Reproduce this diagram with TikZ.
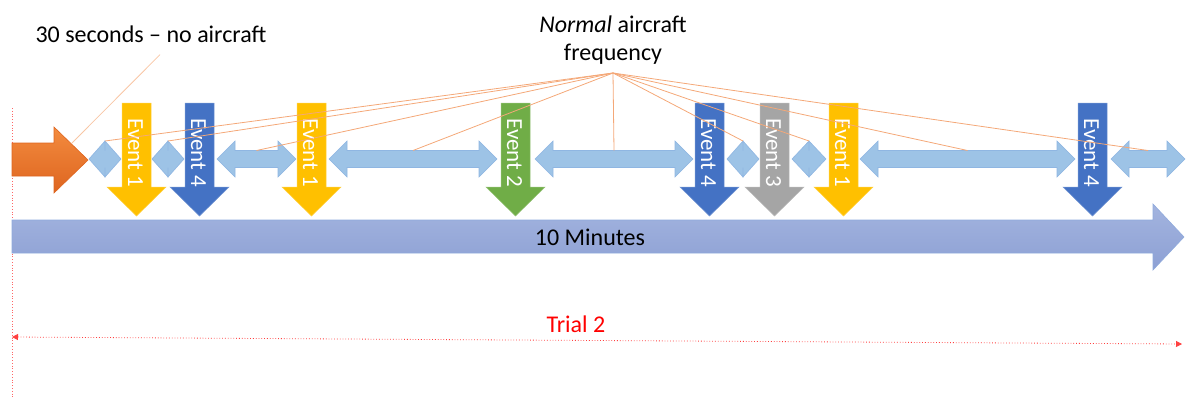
\documentclass[tikz,border=0pt]{standalone}
\usepackage{fontspec}
\setmainfont{Carlito}
\usepackage{tikz}
\usetikzlibrary{calc,arrows.meta}
\definecolor{evyellow}{HTML}{FFC000}
\definecolor{evblue}{HTML}{4472C4}
\definecolor{evgreen}{HTML}{70AD47}
\definecolor{evgray}{HTML}{A5A5A5}
\definecolor{gapblue}{HTML}{9DC3E6}
\definecolor{gapedge}{HTML}{8FB6E2}
\definecolor{mintop}{HTML}{A3B4DF}
\definecolor{minbot}{HTML}{8DA0D4}
\definecolor{minedge}{HTML}{8FAADC}
\definecolor{runtop}{HTML}{F38B3E}
\definecolor{runbot}{HTML}{DE6520}
\definecolor{leadorange}{HTML}{F4A878}
\definecolor{leadlight}{HTML}{F8C6A4}
\definecolor{trialred}{HTML}{FF0000}

\begin{document}
\begin{tikzpicture}[x=1pt,y=-1pt,
    lead/.style={draw=leadorange, line width=.8pt},
    gap/.style={fill=gapblue, draw=gapedge, line width=.6pt},
    evtext/.style={text=white, font=\fontsize{23}{27}\selectfont, inner sep=0pt},
    lbl/.style={font=\fontsize{24}{28.5}\selectfont, inner sep=0pt}]
  \useasboundingbox (0,0) rectangle (1186,397);

  % Trial 2
  \draw[trialred!60, dotted, line width=.8pt] (12,108) -- (12,397);
  \coordinate (tl) at (12,337);
  \coordinate (tr) at (1182,344);
  \draw[trialred!75, dotted, line width=.8pt,
    {Triangle[length=6pt,width=6pt]}-{Triangle[length=6pt,width=6pt]}] (tl) -- (tr);
  \node[lbl, text=trialred] (trial) at (576,324) {Trial 2};

  % 10 minutes
  \shadedraw[top color=mintop, bottom color=minbot, draw=minedge, line width=.6pt]
    (12,220) -- (1153,220) -- (1153,204) -- (1184,237) -- (1153,270) -- (1153,253) -- (12,253) -- cycle;
  \node[lbl] (tenmin) at (590,237) {10 Minutes};

  % no aircraft
  \shadedraw[top color=runtop, bottom color=runbot, draw=runbot, line width=.6pt]
    (12,143) -- (54,143) -- (54,127) -- (88,160) -- (54,193) -- (54,176) -- (12,176) -- cycle;
  \coordinate (runin) at (72,143);

  % gaps between events
  \foreach \xa/\xb [count=\i] in {89/121,152/184,217/296,329/497,535/693,727/759,792/826,860/1075,1111/1185} {
    \pgfmathsetmacro{\hl}{min(18,(\xb-\xa)/2)}
    \pgfmathsetmacro{\ty}{\hl<18 ? 141 : 150.5}
    \filldraw[gap] (\xa,159) -- (\xa+\hl,141) -- (\xa+\hl,150.5) -- (\xb-\hl,150.5) -- (\xb-\hl,141)
      -- (\xb,159) -- (\xb-\hl,177) -- (\xb-\hl,167.5) -- (\xa+\hl,167.5) -- (\xa+\hl,177) -- cycle;
    \coordinate (gap\i) at ({(\xa+\xb)/2},\ty);
  }

  % events
  \foreach \x/\c/\t [count=\i] in {136.5/evyellow/1,199.5/evblue/4,311.5/evyellow/1,515.5/evgreen/2,
      709.5/evblue/4,774.5/evgray/3,843.5/evyellow/1,1092.5/evblue/4} {
    \filldraw[fill=\c, draw=\c!75!white, line width=.5pt] (\x-14.5,103) -- (\x+14.5,103) -- (\x+14.5,187)
      -- (\x+29.5,187) -- (\x,216) -- (\x-29.5,187) -- (\x-14.5,187) -- cycle;
    \node[evtext, rotate=-90] (ev\i) at (\x-1,153) {Event \t};
  }

  % labels
  \node[lbl, inner ysep=8pt, align=center, anchor=south] (freq) at (613,73) {\textit{Normal} aircraft\\frequency};
  \foreach \i in {1,...,9}
    \draw[lead] (freq.south) -- (gap\i);
  \node[lbl] (nosec) at (151,34) {30 seconds – no aircraft};
  \draw[lead, draw=leadlight] ($(nosec.south)+(9,12)$) -- (runin);
\end{tikzpicture}
\end{document}
